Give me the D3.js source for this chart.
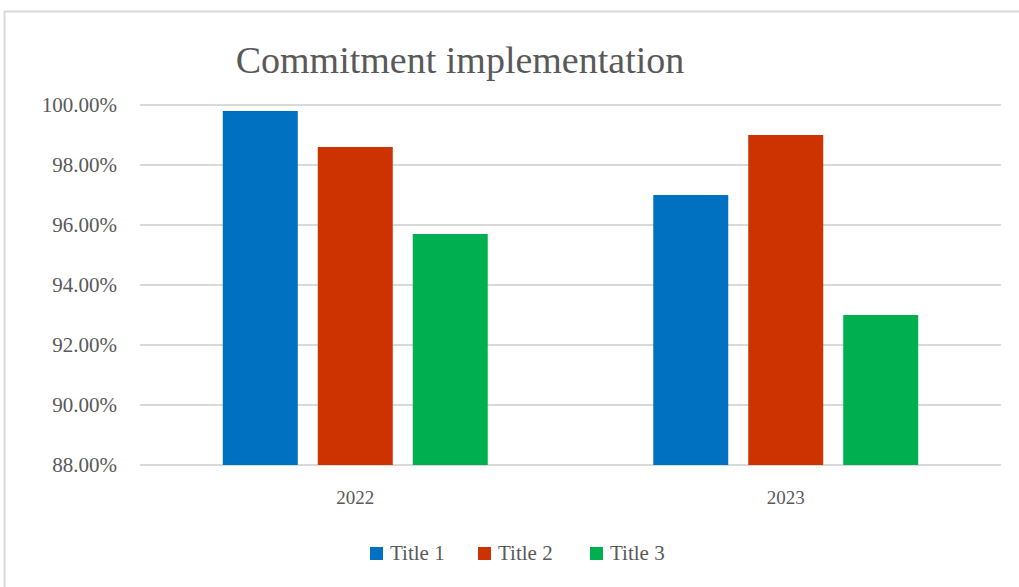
<!DOCTYPE html>
<html>
<head>
<meta charset="utf-8">
<script src="https://cdn.jsdelivr.net/npm/d3@7"></script>
<style>
  body { margin: 0; background: #fff; }
  svg text { font-family: "Liberation Serif", "DejaVu Serif", serif; fill: #595959; }
</style>
</head>
<body>
<div id="chart"></div>
<script>
// data
const years = ["2022", "2023"];
const seriesNames = ["Title 1", "Title 2", "Title 3"];
const title1 = [0.998, 0.970];
const title2 = [0.986, 0.990];
const title3 = [0.957, 0.930];
const yTicks = [0.88, 0.90, 0.92, 0.94, 0.96, 0.98, 1.00];
const colors = ["#0070C0", "#CC3300", "#00B050"];

const seriesValues = [title1, title2, title3];
const rows = years.map((y, i) => ({
    year: y,
    values: seriesNames.map((s, j) => ({ name: s, value: seriesValues[j][i], color: colors[j] }))
}));

const W = 1019, H = 587;
const margin = {top: 105, right: 18, bottom: 122, left: 140};
const width = W - margin.left - margin.right;
const height = H - margin.top - margin.bottom;

const svg = d3.select("#chart").append("svg")
    .attr("width", W)
    .attr("height", H);

// outer frame
svg.append("rect")
    .attr("x", 4.5).attr("y", 11.5)
    .attr("width", W).attr("height", H)
    .attr("fill", "none")
    .attr("stroke", "#d9d9d9")
    .attr("stroke-width", 2);

// title
svg.append("text")
    .attr("x", 460)
    .attr("y", 73)
    .attr("text-anchor", "middle")
    .style("font-size", "38px")
    .text("Commitment implementation");

const g = svg.append("g")
    .attr("transform", "translate(" + margin.left + "," + margin.top + ")");

const x0 = d3.scaleBand()
    .domain(years)
    .range([0, width])
    .paddingInner(0.3845)
    .paddingOuter(0.1923);

const x1 = d3.scaleBand()
    .domain(seriesNames)
    .range([0, x0.bandwidth()])
    .paddingInner(0.2105)
    .paddingOuter(0);

const y = d3.scaleLinear()
    .domain([0.88, 1.00])
    .range([height, 0]);

// gridlines
g.append("g")
    .selectAll("line")
    .data(yTicks)
    .enter().append("line")
    .attr("x1", 0)
    .attr("x2", width)
    .attr("y1", d => y(d))
    .attr("y2", d => y(d))
    .attr("stroke", "#d9d9d9")
    .attr("stroke-width", 2);

// y axis labels
const yAxis = g.append("g")
    .call(d3.axisLeft(y).tickValues(yTicks).tickFormat(d3.format(".2%")).tickSize(0).tickPadding(23));
yAxis.select(".domain").remove();
yAxis.selectAll("text")
    .style("font-size", "21px")
    .attr("fill", "#595959");

// x axis labels
const xAxis = g.append("g")
    .attr("transform", "translate(0," + height + ")")
    .call(d3.axisBottom(x0).tickSize(0).tickPadding(26));
xAxis.select(".domain").remove();
xAxis.selectAll("text")
    .style("font-size", "19px")
    .attr("fill", "#595959");

// bars
g.append("g")
    .selectAll("g")
    .data(rows)
    .enter().append("g")
    .attr("transform", d => "translate(" + x0(d.year) + ",0)")
    .selectAll("rect")
    .data(d => d.values)
    .enter().append("rect")
    .attr("x", d => x1(d.name))
    .attr("width", x1.bandwidth())
    .attr("y", d => y(d.value))
    .attr("height", d => height - y(d.value))
    .attr("fill", d => d.color);

// legend
const legendX = [370, 478, 590];
const legend = svg.append("g")
    .selectAll("g")
    .data(seriesNames)
    .enter().append("g")
    .attr("transform", (d, i) => "translate(" + legendX[i] + ",547)");
legend.append("rect")
    .attr("width", 13)
    .attr("height", 13)
    .attr("fill", (d, i) => colors[i]);
legend.append("text")
    .attr("x", 20)
    .attr("y", 13)
    .style("font-size", "21px")
    .text(d => d);
</script>
</body>
</html>
